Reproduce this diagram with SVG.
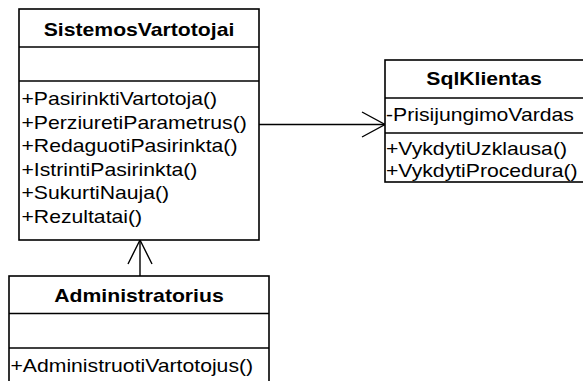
<svg xmlns="http://www.w3.org/2000/svg" width="583" height="381" viewBox="0 0 583 381">
<style>
.box{fill:#fff;stroke:#000;stroke-width:1.6}
.sep{stroke:#000;stroke-width:1.6}
.t{font-family:"Liberation Sans",Arial,sans-serif;font-size:19px;fill:#000}
.h{font-weight:bold;text-anchor:middle}
.c{fill:none;stroke:#000;stroke-width:1.4}
</style>
<rect width="583" height="381" fill="#fff"/>
<g id="connectors">
<line class="c" x1="259" y1="124.5" x2="385" y2="124.5"/>
<polyline class="c" points="362,112 385,124.5 362,137"/>
<line class="c" x1="140" y1="240" x2="140" y2="276"/>
<polyline class="c" points="128,264 140,240 152,264"/>
</g>
<g id="SistemosVartotojai">
<rect class="box" x="19" y="9" width="240" height="231"/>
<line class="sep" x1="19" y1="47" x2="259" y2="47"/>
<line class="sep" x1="19" y1="81" x2="259" y2="81"/>
<text class="t h" transform="translate(139,35.5) scale(1.115 1)">SistemosVartotojai</text>
<text class="t" transform="translate(21.5,105) scale(1.115 1)">+PasirinktiVartotoja()</text>
<text class="t" transform="translate(21.5,128.6) scale(1.115 1)">+PerziuretiParametrus()</text>
<text class="t" transform="translate(21.5,152.2) scale(1.115 1)">+RedaguotiPasirinkta()</text>
<text class="t" transform="translate(21.5,175.8) scale(1.115 1)">+IstrintiPasirinkta()</text>
<text class="t" transform="translate(21.5,199.4) scale(1.115 1)">+SukurtiNauja()</text>
<text class="t" transform="translate(21.5,223) scale(1.115 1)">+Rezultatai()</text>
</g>
<g id="SqlKlientas">
<rect class="box" x="385" y="60" width="199" height="122"/>
<line class="sep" x1="385" y1="98" x2="584" y2="98"/>
<line class="sep" x1="385" y1="133" x2="584" y2="133"/>
<text class="t h" transform="translate(484,85) scale(1.115 1)">SqlKlientas</text>
<text class="t" transform="translate(386,121) scale(1.115 1)">-PrisijungimoVardas</text>
<text class="t" transform="translate(386,154.5) scale(1.115 1)">+VykdytiUzklausa()</text>
<text class="t" transform="translate(386,177) scale(1.115 1)">+VykdytiProcedura()</text>
</g>
<g id="Administratorius">
<rect class="box" x="9" y="276" width="260" height="120"/>
<line class="sep" x1="9" y1="313.5" x2="269" y2="313.5"/>
<line class="sep" x1="9" y1="348" x2="269" y2="348"/>
<text class="t h" transform="translate(139,302) scale(1.115 1)">Administratorius</text>
<text class="t" transform="translate(10.5,372) scale(1.115 1)">+AdministruotiVartotojus()</text>
</g>
</svg>
